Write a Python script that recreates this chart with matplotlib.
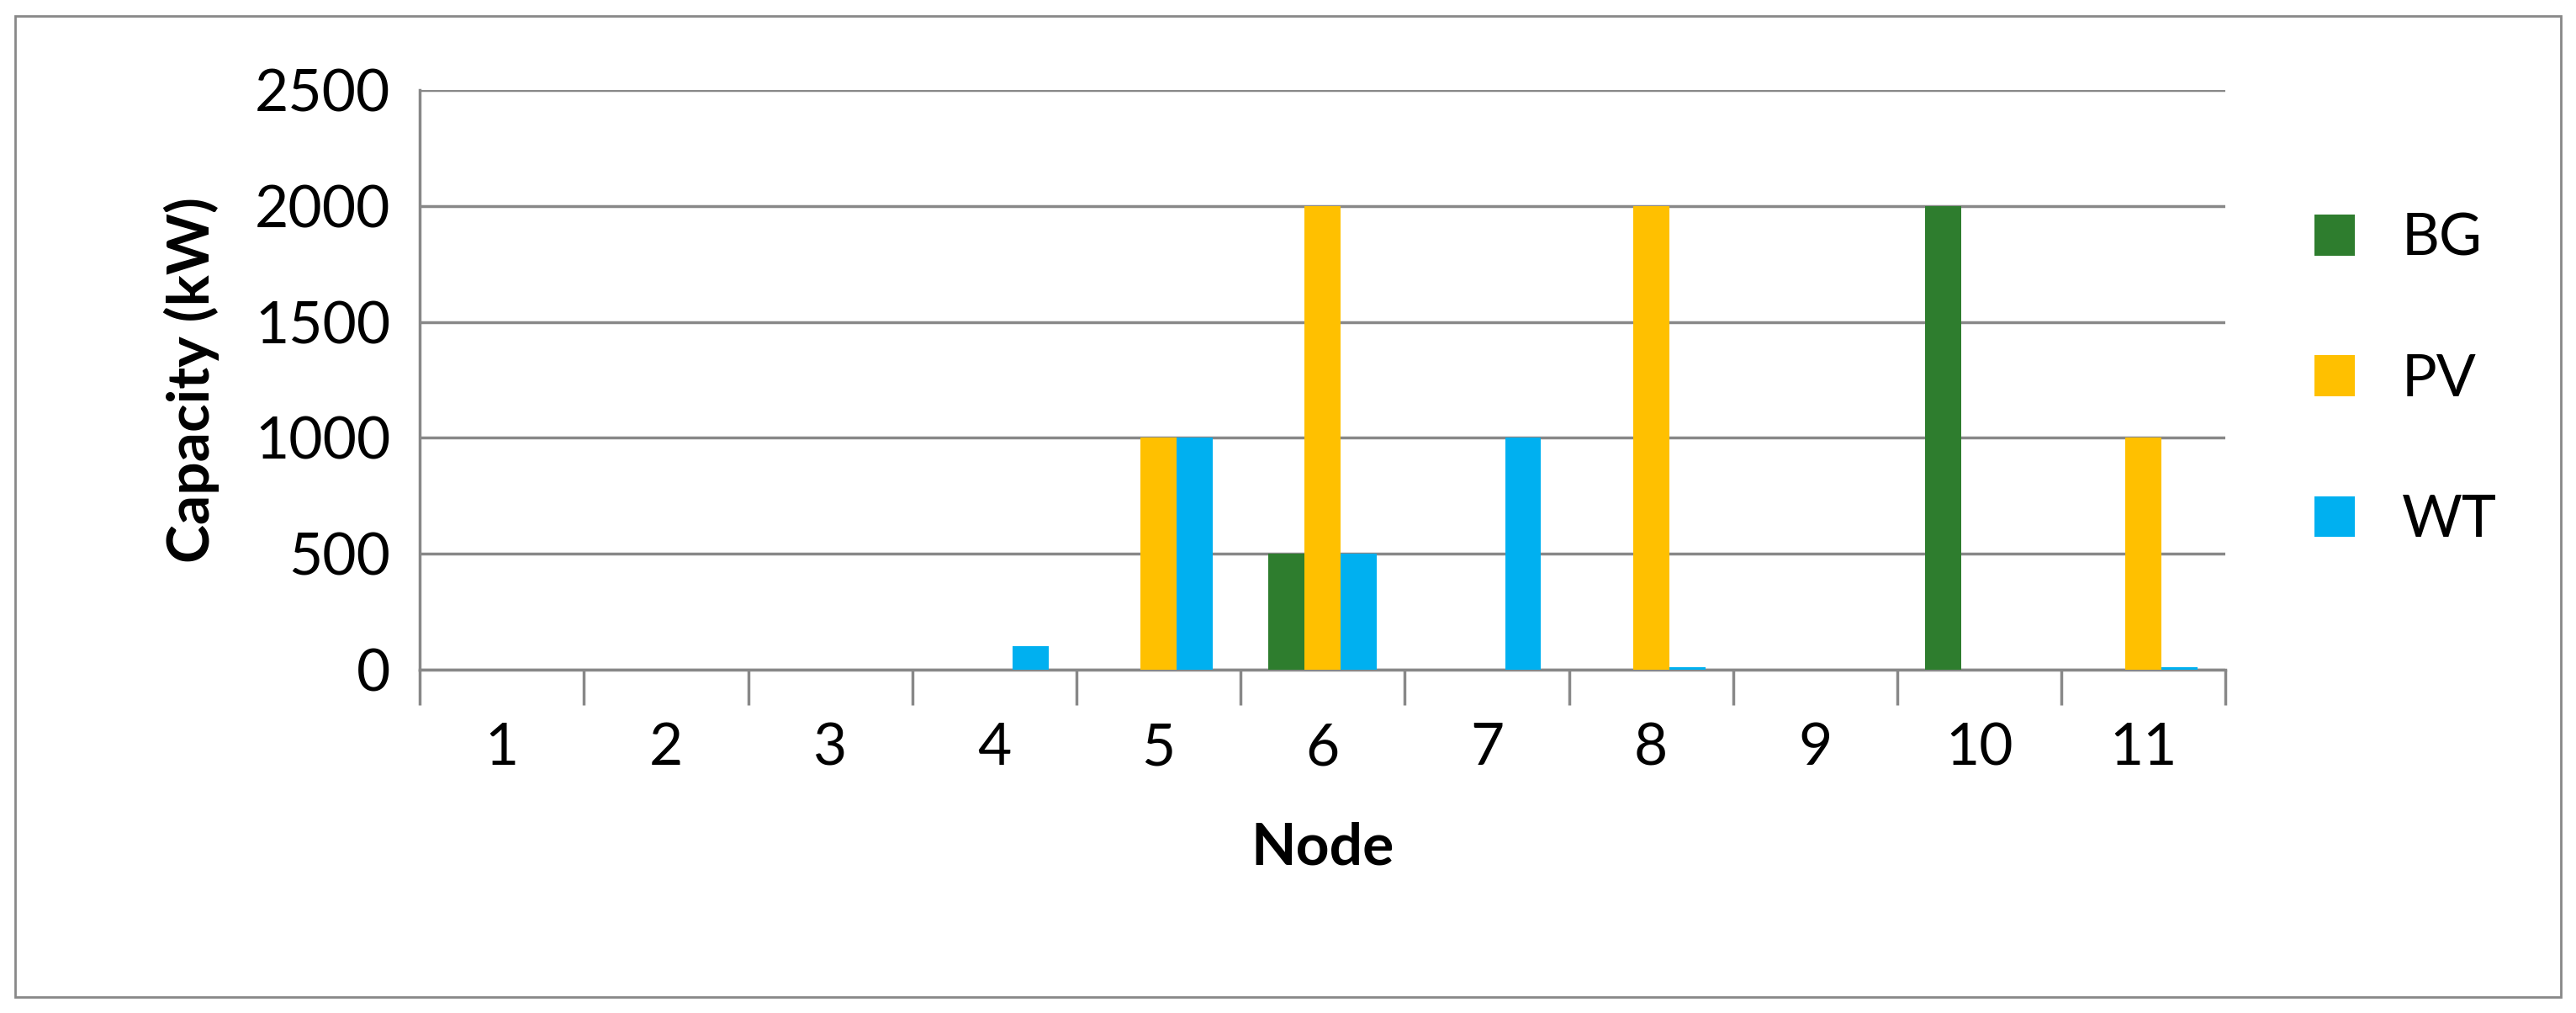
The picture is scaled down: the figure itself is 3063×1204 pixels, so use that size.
import numpy as np
import matplotlib.pyplot as plt

nodes = [str(i) for i in range(1, 12)]
bg = [0, 0, 0, 0, 0, 500, 0, 0, 0, 2000, 0]
pv = [0, 0, 0, 0, 1000, 2000, 0, 2000, 0, 0, 1000]
wt = [0, 0, 0, 100, 1000, 500, 1000, 10, 0, 0, 10]

plt.rcParams['font.family'] = ['Lato', 'DejaVu Sans']

fig = plt.figure(figsize=(30.63, 12.04), dpi=100)
ax = fig.add_axes([0.163, 0.339, 0.701, 0.572])
fig.patches.append(plt.Rectangle((0.006, 0.016), 0.988, 0.968, transform=fig.transFigure,
                                 fill=False, edgecolor='#888888', linewidth=2))

x = np.arange(len(nodes))
w = 0.22
ax.bar(x - w, bg, w, color='#2E7D2E', label='BG', zorder=3)
ax.bar(x, pv, w, color='#FFC000', label='PV', zorder=3)
ax.bar(x + w, wt, w, color='#00B0F0', label='WT', zorder=3)

ax.set_xlim(-0.5, len(nodes) - 0.5)
ax.set_ylim(0, 2500)
ax.set_yticks(range(0, 2501, 500))
ax.yaxis.grid(True, color='#888888', linewidth=2.5, zorder=0)
ax.set_xticks(x)
ax.set_xticklabels(nodes)
ax.set_xticks(np.arange(-0.5, len(nodes)), minor=True)
ax.tick_params(axis='x', which='major', length=0, labelsize=50, pad=45)
ax.tick_params(axis='x', which='minor', length=30, width=2.5, color='#888888')
ax.tick_params(axis='y', length=0, labelsize=50, pad=25)
for s in ['top', 'right']:
    ax.spines[s].set_visible(False)
for s in ['left', 'bottom']:
    ax.spines[s].set_color('#888888')
    ax.spines[s].set_linewidth(2.5)

ax.set_xlabel('Node', fontsize=50, fontweight='bold', labelpad=40)
ax.set_ylabel('Capacity (kW)', fontsize=50, fontweight='bold', labelpad=30)
ax.legend(loc='center left', bbox_to_anchor=(1.02, 0.5), frameon=False,
          fontsize=50, labelspacing=1.5, handlelength=0.7, handleheight=0.7)

fig.savefig('out.png')
